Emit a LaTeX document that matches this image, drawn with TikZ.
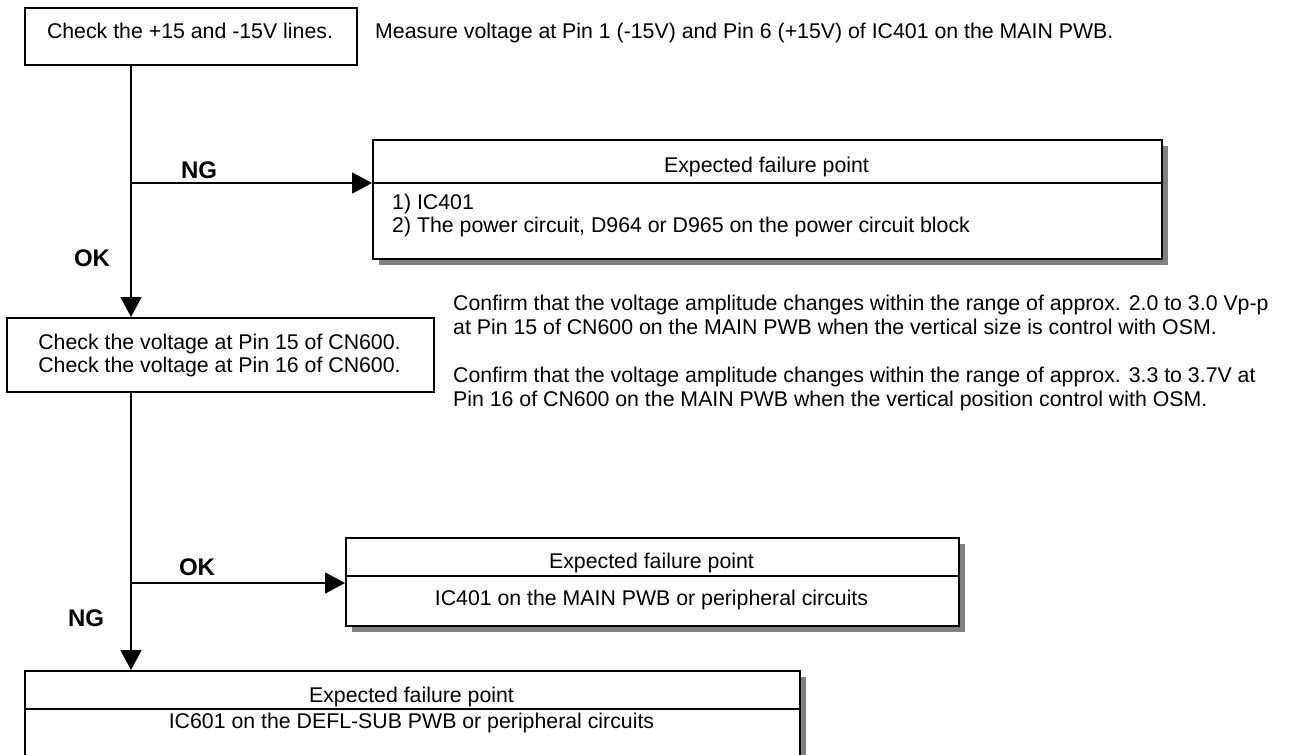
\documentclass[tikz,border=0pt]{standalone}
\usepackage{fontspec}
\setmainfont{Liberation Sans}
\usetikzlibrary{arrows.meta,shadows}
\begin{document}
\begin{tikzpicture}[x=1pt,y=-1pt,
  ln/.style={line width=1.8pt},
  box/.style={draw,line width=1.8pt,fill=white,inner sep=0pt,anchor=north west},
  sbox/.style={box,drop shadow={shadow xshift=6pt,shadow yshift=-6pt,fill=black!50,opacity=1}},
  txt/.style={inner sep=0pt,font=\fontsize{21.3}{24}\selectfont},
  lbl/.style={inner sep=0pt,font=\fontsize{24}{28}\selectfont\bfseries},
  conn/.style={line width=1.8pt,-{Triangle[length=20pt,width=21pt]}}]
\useasboundingbox (0,0) rectangle (1294,755);
\coordinate (vx) at (131,0);

% boxes
\node[box,minimum width=332pt,minimum height=57pt] (b1) at (24,7) {};
\node[sbox,minimum width=789pt,minimum height=119pt] (f1) at (372,139) {};
\node[box,minimum width=427pt,minimum height=74pt] (cn) at (6,317) {};
\node[sbox,minimum width=613pt,minimum height=88pt] (f2) at (345,537) {};
\node[sbox,minimum width=775pt,minimum height=110pt] (f3) at (24,670) {};

% dividers
\draw[ln] ([yshift=-44pt]f1.north west) -- ([yshift=-44pt]f1.north east);
\draw[ln] ([yshift=-39pt]f2.north west) -- ([yshift=-39pt]f2.north east);
\draw[ln] ([yshift=-39pt]f3.north west) -- ([yshift=-39pt]f3.north east);

% texts
\node[txt,anchor=base] (t1) at (190,38) {Check the +15 and -15V lines.};
\node[txt,anchor=base west] (m1) at (375,38) {Measure voltage at Pin 1 (-15V) and Pin 6 (+15V) of IC401 on the MAIN PWB.};
\node[txt,anchor=base] (f1h) at (766.5,172) {Expected failure point};
\node[txt,anchor=base west] (f1a) at (392,209) {1) IC401};
\node[txt,anchor=base west] (f1b) at (392,232) {2) The power circuit, D964 or D965 on the power circuit block};
\node[txt,anchor=base] (cn1) at (219.5,349) {Check the voltage at Pin 15 of CN600.};
\node[txt,anchor=base] (cn2) at (219.5,372) {Check the voltage at Pin 16 of CN600.};
\node[txt,anchor=base west] (c1) at (453,310) {Confirm that the voltage amplitude changes within the range of approx. 2.0 to 3.0 Vp-p};
\node[txt,anchor=base west] (c2) at (453,334) {at Pin 15 of CN600 on the MAIN PWB when the vertical size is control with OSM.};
\node[txt,anchor=base west] (c3) at (453,382) {Confirm that the voltage amplitude changes within the range of approx. 3.3 to 3.7V at};
\node[txt,anchor=base west] (c4) at (453,406) {Pin 16 of CN600 on the MAIN PWB when the vertical position control with OSM.};
\node[txt,anchor=base] (f2h) at (651.5,568) {Expected failure point};
\node[txt,anchor=base] (f2b) at (651.5,605) {IC401 on the MAIN PWB or peripheral circuits};
\node[txt,anchor=base] (f3h) at (411.5,702) {Expected failure point};
\node[txt,anchor=base] (f3b) at (411.5,728) {IC601 on the DEFL-SUB PWB or peripheral circuits};

% labels
\node[lbl,anchor=base] (ng1) at (199,178) {NG};
\node[lbl,anchor=base] (ok1) at (92,266) {OK};
\node[lbl,anchor=base] (ok2) at (197,575) {OK};
\node[lbl,anchor=base] (ng2) at (86,626) {NG};

% connectors
\coordinate (j1) at (131,183);
\coordinate (j2) at (131,583);
\draw[conn] (b1.south -| vx) -- (cn.north -| vx);
\draw[conn] (j1) -- (j1 -| f1.west);
\draw[conn] (cn.south -| vx) -- (f3.north -| vx);
\draw[conn] (j2) -- (j2 -| f2.west);
\end{tikzpicture}
\end{document}
